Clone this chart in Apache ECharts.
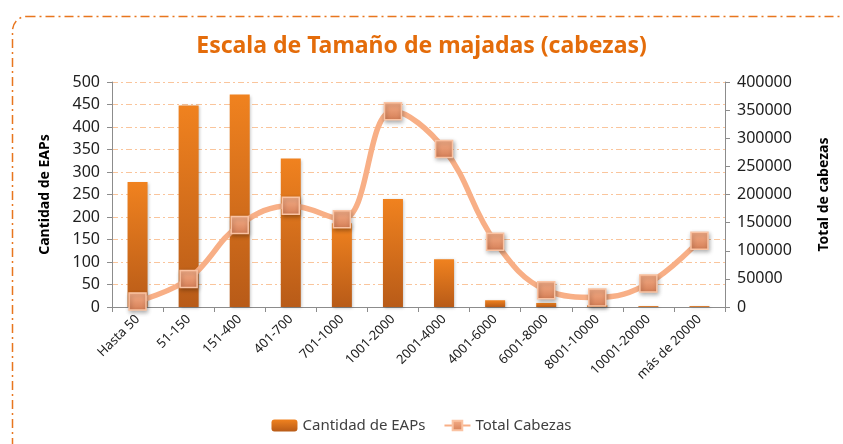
<!DOCTYPE html>
<html>
<head>
<meta charset="utf-8">
<script src="https://cdn.jsdelivr.net/npm/echarts@6/dist/echarts.min.js"></script>
<style>
html, body { margin: 0; padding: 0; background: #fff; }
#chart { width: 843px; height: 444px; }
</style>
</head>
<body>
<div id="chart"></div>
<script>
var categories = ['Hasta 50', '51-150', '151-400', '401-700', '701-1000', '1001-2000', '2001-4000', '4001-6000', '6001-8000', '8001-10000', '10001-20000', 'más de 20000'];
var cantidadEAPs = [278, 448, 472, 330, 186, 240, 106, 15, 9, 4, 2, 2];
var totalCabezas = [10000, 50000, 146000, 180000, 156000, 348000, 281000, 116000, 30000, 17000, 42000, 118000];
var leftTicks = { min: 0, max: 500, interval: 50 };
var rightTicks = { min: 0, max: 400000, interval: 50000 };

var font = 'Noto Sans';
var chart = echarts.init(document.getElementById('chart'));

var option = {
    backgroundColor: '#fff',
    textStyle: { fontFamily: font },
    title: {
        text: 'Escala de Tamaño de majadas (cabezas)',
        left: 'center',
        top: 30,
        textStyle: { color: '#E46C0A', fontSize: 23, fontWeight: 'bold', fontFamily: font }
    },
    graphic: [
        {
            type: 'rect',
            left: 10, top: 14,
            shape: { width: 900, height: 500, r: 14 },
            style: { fill: 'none', stroke: '#E8761E', lineWidth: 1.5, lineDash: [9, 4, 2, 4] },
            silent: true
        }
    ],
    legend: {
        bottom: 6,
        left: 'center',
        itemWidth: 26,
        itemHeight: 12,
        itemGap: 18,
        textStyle: { color: '#404040', fontSize: 15, fontFamily: font },
        data: ['Cantidad de EAPs', 'Total Cabezas']
    },
    grid: {
        left: 112,
        right: 118,
        top: 82,
        bottom: 137
    },
    xAxis: {
        type: 'category',
        data: categories,
        axisLine: { lineStyle: { color: '#8C8C8C' } },
        axisTick: { show: true, alignWithLabel: false, lineStyle: { color: '#8C8C8C' } },
        axisLabel: { rotate: 45, color: '#202020', fontSize: 13, interval: 0, margin: 10 }
    },
    yAxis: [
        {
            type: 'value',
            min: leftTicks.min, max: leftTicks.max, interval: leftTicks.interval,
            name: 'Cantidad de EAPs',
            nameLocation: 'middle',
            nameGap: 60,
            nameRotate: 90,
            nameTextStyle: { color: '#000', fontSize: 14, fontWeight: 'bold', fontFamily: font },
            axisLine: { show: true, lineStyle: { color: '#8C8C8C' } },
            axisTick: { show: true, lineStyle: { color: '#8C8C8C' } },
            axisLabel: { color: '#202020', fontSize: 16, margin: 12 },
            splitLine: { show: true, lineStyle: { color: '#FAC59C', type: [6, 3, 2, 3], width: 1 } }
        },
        {
            type: 'value',
            min: rightTicks.min, max: rightTicks.max, interval: rightTicks.interval,
            name: 'Total de cabezas',
            nameLocation: 'middle',
            nameGap: 92,
            nameRotate: 90,
            nameTextStyle: { color: '#000', fontSize: 14, fontWeight: 'bold', fontFamily: font },
            axisLine: { show: true, lineStyle: { color: '#8C8C8C' } },
            axisTick: { show: true, lineStyle: { color: '#8C8C8C' } },
            axisLabel: { color: '#202020', fontSize: 16, margin: 12, formatter: function (v) { return String(v); } },
            splitLine: { show: false }
        }
    ],
    series: [
        {
            name: 'Cantidad de EAPs',
            type: 'bar',
            yAxisIndex: 0,
            barWidth: 20,
            data: cantidadEAPs,
            itemStyle: {
                color: new echarts.graphic.LinearGradient(0, 0, 0, 1, [
                    { offset: 0, color: '#F0821F' },
                    { offset: 1, color: '#B85B18' }
                ]),
                shadowColor: 'rgba(0,0,0,0.25)',
                shadowBlur: 3,
                shadowOffsetX: 1,
                shadowOffsetY: 1
            }
        },
        {
            name: 'Total Cabezas',
            type: 'line',
            yAxisIndex: 1,
            smooth: 0.4,
            data: totalCabezas,
            symbol: 'rect',
            symbolSize: 17,
            lineStyle: { color: '#F8AF86', width: 5.5 },
            itemStyle: {
                color: new echarts.graphic.LinearGradient(0, 0, 0, 1, [
                    { offset: 0, color: '#F7B08A' },
                    { offset: 1, color: '#D47E56' }
                ]),
                borderColor: '#FAC3A3',
                borderWidth: 1.5,
                shadowColor: 'rgba(0,0,0,0.3)',
                shadowBlur: 4,
                shadowOffsetX: 1,
                shadowOffsetY: 2
            }
        }
    ]
};

chart.setOption(option);
</script>
</body>
</html>
